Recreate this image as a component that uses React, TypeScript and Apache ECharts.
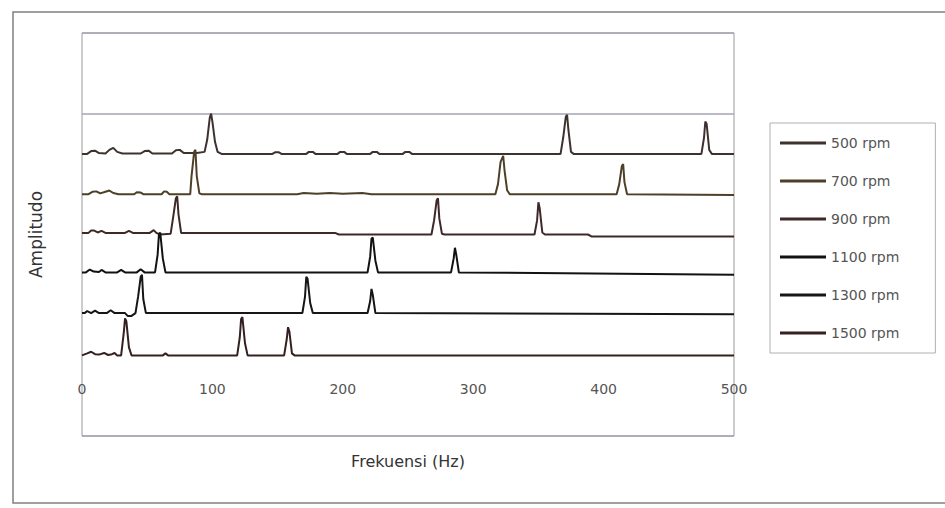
import React, { useEffect, useRef } from "react";
import * as echarts from "echarts";

const SERIES_NAMES = ["500 rpm", "700 rpm", "900 rpm", "1100 rpm", "1300 rpm", "1500 rpm"];
const OFFSETS = [7, 6, 5, 4, 3, 2];
const COLORS = ["#3e3230", "#4e4028", "#402828", "#121212", "#161616", "#342020"];
const X_TICKS = [0, 100, 200, 300, 400, 500];

const rpm500: number[][] = [
  [0, 0], [4, 0], [7, 0.07], [10, 0.08], [13, 0.02], [18, 0.01], [21, 0.1], [24, 0.15], [27, 0.05], [31, 0.01],
  [45, 0.01], [48, 0.07], [51, 0.08], [54, 0.01], [69, 0.01], [72, 0.09], [75, 0.1], [78, 0.02], [88, 0.02],
  [94, 0.05], [96, 0.35], [98, 0.9], [99, 1.0], [100, 0.8], [102, 0.3], [104, 0.05], [107, 0],
  [146, 0], [148, 0.04], [151, 0.04], [153, 0], [172, 0], [174, 0.05], [177, 0.05], [179, 0],
  [196, 0], [198, 0.05], [201, 0.05], [203, 0], [221, 0], [223, 0.05], [226, 0.05], [228, 0],
  [246, 0], [248, 0.05], [251, 0.05], [253, 0],
  [367, 0], [369, 0.4], [371, 0.92], [372, 0.97], [373, 0.6], [375, 0.05], [377, 0],
  [475, 0], [477, 0.4], [478, 0.8], [479, 0.75], [481, 0.1], [483, 0], [500, 0],
];

const rpm700: number[][] = [
  [0, 0], [5, 0], [8, 0.06], [11, 0.07], [14, 0.02], [18, 0.06], [21, 0.09], [24, 0.03], [28, 0],
  [40, 0], [42, 0.05], [45, 0.04], [47, 0], [61, 0], [63, 0.07], [65, 0.06], [67, 0],
  [83, 0], [84, 0.45], [86, 1.05], [87, 1.1], [88, 0.45], [90, 0.02], [92, 0],
  [165, 0], [170, 0.03], [180, 0.01], [190, 0.03], [200, 0.01], [215, 0.03], [222, 0],
  [317, 0], [319, 0.25], [321, 0.8], [323, 0.95], [324, 0.6], [326, 0.1], [328, 0],
  [410, 0], [412, 0.25], [414, 0.7], [415, 0.75], [416, 0.3], [418, 0], [500, -0.02],
];

const rpm900: number[][] = [
  [0, 0.04], [5, 0.04], [7, 0.1], [9, 0.1], [12, 0.05], [15, 0.09], [18, 0.04], [33, 0.04], [36, 0.09], [39, 0.04],
  [52, 0.04], [55, 0.11], [57, 0.04], [60, 0.0], [68, 0.02], [70, 0.45], [72, 0.9], [73, 0.95], [74, 0.5], [76, 0.04],
  [80, 0.04], [194, 0.04], [197, 0],
  [268, 0], [270, 0.35], [272, 0.85], [273, 0.9], [274, 0.4], [276, 0.02], [278, 0],
  [347, 0], [349, 0.35], [350, 0.8], [351, 0.65], [353, 0.05], [355, 0], [388, 0], [391, -0.05], [500, -0.05],
];

const rpm1100: number[][] = [
  [0, 0.06], [3, 0.06], [6, 0.13], [9, 0.08], [13, 0.07], [15, 0.12], [18, 0.06], [27, 0.06], [30, 0.12], [33, 0.06],
  [42, 0.06], [45, 0.14], [48, 0.06], [56, 0.06], [58, 0.5], [59, 1.0], [60, 1.05], [62, 0.4], [64, 0.06],
  [219, 0.06], [221, 0.45], [222, 0.9], [223, 0.92], [225, 0.35], [227, 0.06],
  [283, 0.06], [285, 0.4], [286, 0.67], [287, 0.5], [289, 0.06], [500, 0.0],
];

const rpm1300: number[][] = [
  [0, 0.05], [2, 0.05], [4, 0.1], [7, 0.05], [10, 0.11], [13, 0.05], [19, 0.05], [22, 0.12], [25, 0.05],
  [33, 0.05], [35, -0.02], [38, -0.02], [41, 0.05], [43, 0.45], [45, 0.95], [46, 1.0], [47, 0.4], [49, 0.05],
  [169, 0.05], [171, 0.45], [172, 0.95], [173, 0.9], [175, 0.3], [177, 0.05],
  [219, 0.05], [221, 0.35], [222, 0.65], [223, 0.5], [225, 0.05], [500, 0.02],
];

const rpm1500: number[][] = [
  [0, 0], [4, 0.05], [7, 0.09], [10, 0.03], [13, 0.02], [17, 0.06], [20, 0.01], [23, 0.03], [25, 0.06], [27, 0.0],
  [30, 0], [32, 0.55], [33, 0.92], [34, 0.85], [36, 0.2], [38, 0], [62, 0], [64, 0.05], [66, 0],
  [119, 0], [121, 0.45], [122, 0.9], [123, 0.95], [125, 0.3], [127, 0],
  [155, 0], [157, 0.4], [158, 0.7], [159, 0.6], [161, 0.05], [163, 0], [500, 0],
];

const SPECTRA = [rpm500, rpm700, rpm900, rpm1100, rpm1300, rpm1500];

const FONT = "'DejaVu Sans', 'Liberation Sans', Arial, sans-serif";

export default function App() {
  const ref = useRef<HTMLDivElement>(null);
  useEffect(() => {
    if (!ref.current) return;
    const chart = echarts.init(ref.current, null, { renderer: "svg" });
    const series: any[] = SPECTRA.map((pts, i) => ({
      name: SERIES_NAMES[i],
      type: "line",
      symbol: "none",
      smooth: false,
      lineStyle: { color: COLORS[i], width: 2 },
      itemStyle: { color: COLORS[i] },
      data: pts.map((p) => [p[0], p[1] + OFFSETS[i]]),
      z: 3,
    }));
    chart.setOption({
      animation: false,
      backgroundColor: "#ffffff",
      textStyle: { fontFamily: FONT },
      grid: {
        left: 82,
        top: 33,
        width: 652,
        height: 403,
        show: true,
        borderColor: "#9a9a9a",
        borderWidth: 1,
      },
      xAxis: {
        type: "value",
        min: X_TICKS[0],
        max: X_TICKS[X_TICKS.length - 1],
        interval: 100,
        offset: -60,
        axisLine: { show: false },
        axisTick: { show: false },
        splitLine: { show: false },
        axisLabel: { color: "#555", fontSize: 14, fontFamily: FONT, margin: 6 },
        name: "Frekuensi (Hz)",
        nameLocation: "middle",
        nameGap: 77,
        nameTextStyle: { color: "#333", fontSize: 16, fontFamily: FONT },
      },
      yAxis: {
        type: "value",
        min: 0,
        max: 10,
        interval: 8,
        axisLine: { show: false },
        axisTick: { show: false },
        axisLabel: { show: false },
        splitLine: { show: true, lineStyle: { color: "#a4a4b4", width: 1.5 } },
        name: "Amplitudo",
        nameLocation: "middle",
        nameGap: 38,
        nameTextStyle: { color: "#333", fontSize: 17, fontFamily: FONT },
      },
      legend: {
        orient: "vertical",
        left: 770,
        top: 123,
        padding: [13, 36, 13, 10],
        itemGap: 24,
        itemWidth: 46,
        itemHeight: 3,
        icon: "rect",
        borderColor: "#b0b0b0",
        borderWidth: 1,
        textStyle: { color: "#555", fontSize: 14, fontFamily: FONT },
        data: SERIES_NAMES,
      },
      graphic: [
        {
          type: "rect",
          shape: { x: 13, y: 12, width: 940, height: 491 },
          style: { fill: "none", stroke: "#808080", lineWidth: 1.5 },
          silent: true,
        },
      ],
      series,
    });
    return () => chart.dispose();
  }, []);
  return (
    <div
      ref={ref}
      style={{ position: "absolute", left: 0, top: 0, width: 945, height: 508 }}
    />
  );
}
